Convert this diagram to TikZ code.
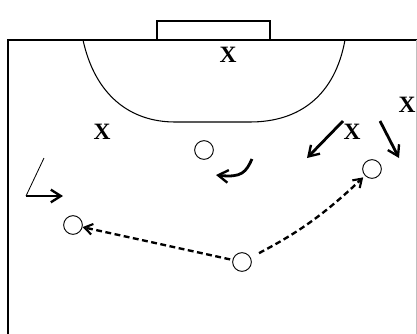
\documentclass[tikz,border=0pt]{standalone}
\usepackage{fontspec}
\setmainfont{Liberation Serif}
\usetikzlibrary{arrows.meta}

\begin{document}
\begin{tikzpicture}[
    x=0.03cm, y=-0.03cm,
    line/.style={line width=0.9pt},
    attacker/.style={draw, circle, line width=0.8pt, minimum size=0.56cm, inner sep=0pt},
    defender/.style={font=\fontsize{20}{20}\selectfont\bfseries, inner sep=0pt},
    run/.style={-{Straight Barb[length=3mm, width=3.8mm, line width=2pt]}, line width=2.4pt},
    pass/.style={-{Straight Barb[length=2.4mm, width=3.2mm, line width=1.8pt]}, line width=2pt, dash pattern=on 5pt off 3pt}
]
\useasboundingbox (0,0) rectangle (417,334);
% court and goal area
\draw[line] (8,334) -- (8,40) -- (417,40);
\draw[gray!50] (416,40) -- (416,334);
\draw[line] (157,40) rectangle (270,21);
\draw[line] (83,40) .. controls (95,95) and (130,122) .. (175,122) -- (250,122)
    .. controls (300,122) and (335,95) .. (345,40);
% players
\node[defender] (x1) at (228,55) {X};
\node[defender] (x2) at (102,132) {X};
\node[defender] (x3) at (352,132) {X};
\node[defender] (x4) at (407,105) {X};
\node[attacker] (a1) at (204,150) {};
\node[attacker] (a2) at (372,169) {};
\node[attacker] (a3) at (73,225) {};
\node[attacker] (a4) at (242,262) {};
% movements
\coordinate (l1) at (44,158);
\coordinate (l2) at (26,196);
\coordinate (l3) at (63,196);
\draw[line width=0.7pt] (l1) -- (l2);
\draw[run] (l2) -- (l3);
\coordinate (c1) at (252,159);
\coordinate (c2) at (216,175);
\draw[run] (c1) .. controls (246,172) and (242,178) .. (c2);
\coordinate (d1) at (343,121);
\coordinate (d2) at (307,158);
\draw[run] (d1) -- (d2);
\coordinate (e1) at (380,121);
\coordinate (e2) at (399,158);
\draw[run] (e1) -- (e2);
% passes
\draw[pass, shorten <=2pt] (a4) -- (a3);
\draw[pass, shorten <=8pt, shorten >=2pt] (a4) to[bend right=8] (a2);
\end{tikzpicture}
\end{document}
